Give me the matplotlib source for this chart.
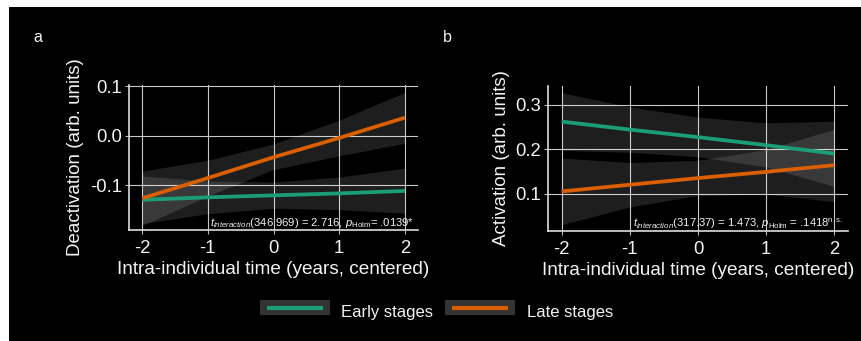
import matplotlib
matplotlib.use("Agg")
import matplotlib.pyplot as plt
from matplotlib.lines import Line2D
from matplotlib.patches import Rectangle

plt.rcParams['font.family'] = ['Liberation Sans', 'DejaVu Sans']
plt.rcParams['mathtext.fontset'] = 'custom'
plt.rcParams['mathtext.rm'] = 'Liberation Sans'
plt.rcParams['mathtext.it'] = 'Liberation Sans:italic'

# data
time = [-2, -1, 0, 1, 2]

# panel a: deactivation
a_early = [-0.129, -0.124, -0.120, -0.116, -0.111]
a_early_lo = [-0.177, -0.157, -0.146, -0.149, -0.156]
a_early_hi = [-0.081, -0.091, -0.093, -0.083, -0.065]
a_late = [-0.126, -0.085, -0.043, -0.004, 0.037]
a_late_lo = [-0.181, -0.121, -0.068, -0.040, -0.015]
a_late_hi = [-0.071, -0.049, -0.016, 0.032, 0.088]

# panel b: activation
b_early = [0.262, 0.244, 0.227, 0.209, 0.190]
b_early_lo = [0.197, 0.193, 0.183, 0.160, 0.116]
b_early_hi = [0.327, 0.295, 0.272, 0.259, 0.263]
b_late = [0.105, 0.120, 0.135, 0.149, 0.164]
b_late_lo = [0.030, 0.070, 0.096, 0.099, 0.082]
b_late_hi = [0.180, 0.170, 0.175, 0.199, 0.245]

green = '#1b9e77'
orange = '#d95f02'
fg = '#f2f2f2'

fig = plt.figure(figsize=(8.62, 3.41), dpi=100, facecolor='white')
fig.patches.append(Rectangle((9 / 862, 0), 1, (341 - 7) / 341, transform=fig.transFigure,
                             facecolor='black', edgecolor='none', zorder=-10))


def panel(rect, early, elo, ehi, late, llo, lhi, ylim, yticks, ylabels, ylab, note):
    ax = fig.add_axes(rect)
    ax.set_facecolor('black')
    ax.fill_between(time, elo, ehi, color='white', alpha=0.12, lw=0, zorder=2)
    ax.fill_between(time, llo, lhi, color='white', alpha=0.12, lw=0, zorder=2)
    ax.plot(time, early, color=green, lw=2.7, solid_capstyle='butt', zorder=3)
    ax.plot(time, late, color=orange, lw=2.7, solid_capstyle='butt', zorder=3)
    ax.set_xlim(-2.2, 2.2)
    ax.set_ylim(*ylim)
    ax.set_xticks(time)
    ax.set_xticklabels(['-2', '-1', '0', '1', '2'])
    ax.set_yticks(yticks)
    ax.set_yticklabels(ylabels)
    ax.grid(True, color='#c8c8c8', lw=0.8)
    ax.set_axisbelow(True)
    for s in ['top', 'right']:
        ax.spines[s].set_visible(False)
    for s in ['left', 'bottom']:
        ax.spines[s].set_color('#dddddd')
        ax.spines[s].set_linewidth(1.2)
    ax.tick_params(colors='#bbbbbb', labelcolor=fg, labelsize=13.3, length=3, width=0.8, pad=2)
    ax.tick_params(axis='x', pad=4)
    ax.set_xlabel('Intra-individual time (years, centered)', color=fg, fontsize=13.7, labelpad=3)
    ax.set_ylabel(ylab, color=fg, fontsize=13.5, labelpad=4)
    ax.text(0.985, 0.05, note, transform=ax.transAxes, ha='right', va='center',
            color=fg, fontsize=8.1, zorder=5)
    return ax


panel([129 / 862, 111 / 341, 289 / 862, 145 / 341], a_early, a_early_lo, a_early_hi,
      a_late, a_late_lo, a_late_hi, (-0.19, 0.103), [-0.1, 0.0, 0.1], ['-0.1', '0.0', '0.1'],
      'Deactivation (arb. units)',
      r'$t_{interaction}$(346.969) = 2.716, $p_{\mathrm{Holm}}$= .0139*')
panel([548 / 862, 110 / 341, 300 / 862, 145 / 341], b_early, b_early_lo, b_early_hi,
      b_late, b_late_lo, b_late_hi, (0.016, 0.342), [0.1, 0.2, 0.3], ['0.1', '0.2', '0.3'],
      'Activation (arb. units)',
      r'$t_{interaction}$(317.37) = 1.473, $p_{\mathrm{Holm}}$ = .1418$^{\mathrm{n.s.}}$')

fig.text(33 / 862, 1 - 37 / 341, 'a', color=fg, fontsize=11.5, va='center')
fig.text(443 / 862, 1 - 37 / 341, 'b', color=fg, fontsize=11.5, va='center')


class BoxLineHandler:
    # grey key box with an inset coloured line
    def legend_artist(self, legend, orig_handle, fontsize, handlebox):
        x0, y0 = handlebox.xdescent, handlebox.ydescent
        w, h = handlebox.width, handlebox.height
        box = Rectangle((x0, y0), w, h, facecolor='#333333', edgecolor='none',
                        transform=handlebox.get_transform())
        inset = w * 0.1
        line = Line2D([x0 + inset, x0 + w - inset], [y0 + h / 2, y0 + h / 2],
                      color=orig_handle.get_color(), lw=3, solid_capstyle='butt',
                      transform=handlebox.get_transform())
        handlebox.add_artist(box)
        handlebox.add_artist(line)
        return box


handles = [Line2D([], [], color=green), Line2D([], [], color=orange)]
fig.legend(handles, ['Early stages', 'Late stages'], loc='center', bbox_to_anchor=(0.506, 1 - 312 / 341),
           ncol=2, frameon=False, fontsize=12, labelcolor=fg, handlelength=4.2, handleheight=1.0,
           handletextpad=0.7, columnspacing=0.7,
           handler_map={Line2D: BoxLineHandler()})

fig.savefig('out.png', dpi=100, facecolor=fig.get_facecolor())
